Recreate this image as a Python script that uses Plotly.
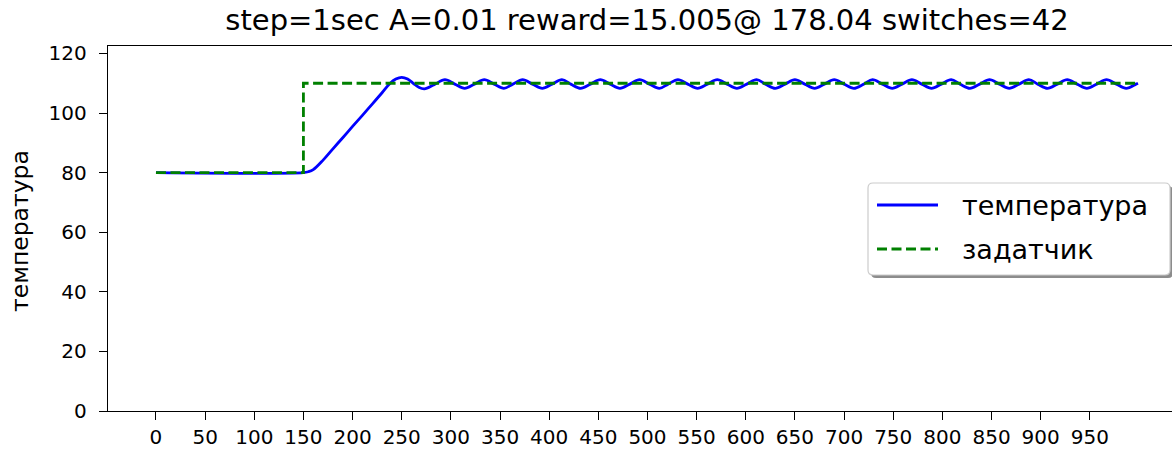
import plotly.graph_objects as go

# ---- data ----
time_s = [0, 150, 155, 160, 170, 180, 190, 200, 210, 220, 230, 238, 244, 250, 256, 262, 267, 273, 283,
          294, 304, 314, 324, 334, 344, 354, 363, 373, 383, 393, 403, 413, 422, 432, 442,
          452, 462, 472, 482, 492, 502, 512, 521, 531, 541, 551, 561, 571, 581, 591, 601,
          611, 620, 630, 640, 650, 660, 670, 680, 690, 700, 710, 720, 729, 739, 749, 759,
          769, 779, 789, 799, 809, 818, 828, 838, 848, 858, 868, 878, 888, 897, 907, 917,
          927, 937, 947, 957, 967, 977, 987, 997, 999]
temperature = [80.0, 80.0, 80.3, 81.0, 84.2, 88.0, 91.7, 95.5, 99.2, 103.0, 106.8, 109.9, 111.4, 112.0, 111.4, 109.9, 108.7, 108.1, 109.5,
               111.2, 109.7, 108.3, 109.7, 111.2, 109.7, 108.3, 109.7, 111.2, 109.7, 108.3, 109.7, 111.2, 109.7, 108.3, 109.7,
               111.2, 109.7, 108.3, 109.7, 111.2, 109.7, 108.3, 109.7, 111.2, 109.7, 108.3, 109.7, 111.2, 109.7, 108.3, 109.7,
               111.2, 109.7, 108.3, 109.7, 111.2, 109.7, 108.3, 109.7, 111.2, 109.7, 108.3, 109.7, 111.2, 109.7, 108.3, 109.7,
               111.2, 109.7, 108.3, 109.7, 111.2, 109.7, 108.3, 109.7, 111.2, 109.7, 108.3, 109.7, 111.2, 109.7, 108.3, 109.7,
               111.2, 109.7, 108.3, 109.7, 111.2, 109.7, 108.3, 109.7, 110.0]
setpoint_time = [0, 150, 150, 999]
setpoint_value = [80, 80, 110, 110]
x_ticks = [0, 50, 100, 150, 200, 250, 300, 350, 400, 450, 500, 550, 600, 650, 700, 750, 800, 850, 900, 950]
y_ticks = [0, 20, 40, 60, 80, 100, 120]
series_names = ["температура", "задатчик"]
title_text = "step=1sec A=0.01 reward=15.005@ 178.04 switches=42"
y_label = "температура"

FONT = "DejaVu Sans"
W, H = 1172, 450
L, R, T, B = 108, 0, 46, 39
PW, PH = W - L - R, H - T - B
BLUE, GREEN = "#0000ff", "#008000"
DASH = "10px,4.5px"


def px(xp):
    return (xp - L) / PW


def py(yp):
    return (H - B - yp) / PH


fig = go.Figure()
fig.add_trace(go.Scatter(x=time_s, y=temperature, mode="lines", name=series_names[0], showlegend=False,
                         line=dict(color=BLUE, width=2.8, shape="spline", smoothing=1.0)))
fig.add_trace(go.Scatter(x=setpoint_time, y=setpoint_value, mode="lines", name=series_names[1], showlegend=False,
                         line=dict(color=GREEN, width=2.8, dash=DASH)))

axis_common = dict(showgrid=False, zeroline=False, showline=True, linecolor="black", linewidth=1.4,
                   ticks="outside", ticklen=8, tickwidth=1.4, tickcolor="black",
                   tickfont=dict(family=FONT, size=20, color="black"))
fig.update_xaxes(range=[-48.8, 1033.6], tickvals=x_ticks, mirror=True, **axis_common)
fig.update_yaxes(range=[0, 122.5], tickvals=y_ticks, ticklabelstandoff=8, **axis_common)

# ---- legend box (matplotlib style, with shadow) ----
bx0, bx1, by0, by1 = 868, 1170, 183, 275
r = 5


def rounded(x0, y0, x1, y1, rr):
    return (f"M {px(x0 + rr)} {py(y0)} L {px(x1 - rr)} {py(y0)} Q {px(x1)} {py(y0)} {px(x1)} {py(y0 + rr)} "
            f"L {px(x1)} {py(y1 - rr)} Q {px(x1)} {py(y1)} {px(x1 - rr)} {py(y1)} "
            f"L {px(x0 + rr)} {py(y1)} Q {px(x0)} {py(y1)} {px(x0)} {py(y1 - rr)} "
            f"L {px(x0)} {py(y0 + rr)} Q {px(x0)} {py(y0)} {px(x0 + rr)} {py(y0)} Z")


shapes = [
    dict(type="path", xref="paper", yref="paper", path=rounded(bx0 + 3, by0 + 3, bx1 + 3, by1 + 3, r),
         fillcolor="rgba(0,0,0,0.45)", line=dict(width=0), layer="above"),
    dict(type="path", xref="paper", yref="paper", path=rounded(bx0, by0, bx1, by1, r),
         fillcolor="white", line=dict(color="#cccccc", width=1.2), layer="above"),
]
rows = [(205, BLUE, "solid"), (249, GREEN, DASH)]
annotations = []
for (ry, col, dsh), name in zip(rows, series_names):
    shapes.append(dict(type="line", xref="paper", yref="paper", x0=px(877), x1=px(938), y0=py(ry), y1=py(ry),
                       line=dict(color=col, width=2.8, dash=dsh), layer="above"))
    annotations.append(dict(text=name, x=px(960), y=py(ry), xref="paper", yref="paper", showarrow=False,
                            xanchor="left", yanchor="middle",
                            font=dict(family=FONT, size=27, color="black")))

annotations.append(dict(text=y_label, x=px(20), y=py(231), xref="paper", yref="paper", showarrow=False,
                        textangle=-90, xanchor="center", yanchor="middle",
                        font=dict(family=FONT, size=23.5, color="black")))

fig.update_layout(
    width=W, height=H, margin=dict(l=L, r=R, t=T, b=B),
    plot_bgcolor="white", paper_bgcolor="white",
    font=dict(family=FONT, color="black"),
    showlegend=False,
    title=dict(text=title_text, x=647 / W, xref="container", xanchor="center",
               y=1 - 20 / H, yref="container", yanchor="middle",
               font=dict(family=FONT, size=29, color="black")),
    shapes=shapes,
    annotations=annotations,
)

fig.write_html("out.html")
